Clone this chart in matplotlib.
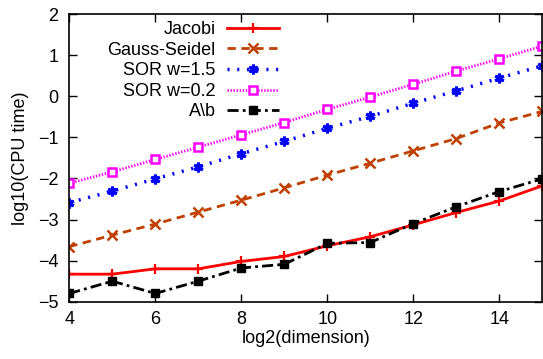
import matplotlib
matplotlib.use("Agg")
import matplotlib.pyplot as plt

plt.rcParams['font.family'] = ['Liberation Sans', 'DejaVu Sans']

dims = [4, 5, 6, 7, 8, 9, 10, 11, 12, 13, 14, 15]
jacobi = [-4.33, -4.33, -4.20, -4.20, -4.02, -3.90, -3.64, -3.42, -3.13, -2.83, -2.55, -2.18]
gauss_seidel = [-3.66, -3.38, -3.11, -2.82, -2.53, -2.23, -1.92, -1.63, -1.33, -1.03, -0.65, -0.37]
sor_15 = [-2.59, -2.31, -2.01, -1.72, -1.40, -1.10, -0.78, -0.49, -0.17, 0.13, 0.44, 0.74]
sor_02 = [-2.12, -1.84, -1.54, -1.24, -0.94, -0.64, -0.32, -0.02, 0.29, 0.61, 0.91, 1.22]
backslash = [-4.80, -4.50, -4.80, -4.50, -4.18, -4.09, -3.58, -3.56, -3.10, -2.69, -2.32, -2.01]
labels = ["Jacobi", "Gauss-Seidel", "SOR w=1.5", "SOR w=0.2", "A\\b"]
xticks = [4, 6, 8, 10, 12, 14]
yticks = [-5, -4, -3, -2, -1, 0, 1, 2]

fig = plt.figure(figsize=(5.43, 3.59), dpi=100)
ax = fig.add_axes([69.3/543, 1-301.7/359, (542.3-69.3)/543, (301.7-14)/359])

fs = 13
ax.plot(dims, jacobi, color='#ff0000', lw=2.0, ls='-', marker='+', ms=7, mew=1.6, label=labels[0])
ax.plot(dims, gauss_seidel, color='#c04000', lw=2.0, ls=(0, (3, 2)), marker='x', ms=6.5, mew=1.8, label=labels[1])
ax.plot(dims, sor_15, color='#0000ff', lw=2.5, ls=(0, (0.6, 2.2)), dash_capstyle='butt', marker=(6, 2, 0), ms=7, mew=2.2, label=labels[2])
ax.plot(dims, sor_02, color='#ff00ff', lw=2.0, ls=(0, (0.5, 0.6)), marker='s', ms=6, mew=1.8, mfc='white', label=labels[3])
ax.plot(dims, backslash, color='black', lw=2.0, ls=(0, (4, 1.5, 1, 1.5)), marker='s', ms=6, label=labels[4])

ax.set_xlim(4, 15)
ax.set_ylim(-5, 2)
ax.set_xticks(xticks)
ax.set_yticks(yticks)
ax.tick_params(direction='in', length=6, width=1.0, top=True, right=True, labelsize=fs)
ax.tick_params(axis='y', pad=8)
ax.tick_params(axis='x', pad=7)
for s in ax.spines.values():
    s.set_linewidth(1.2)
ax.set_xlabel("log2(dimension)", fontsize=fs, labelpad=1)
ax.set_ylabel("log10(CPU time)", fontsize=fs, labelpad=6)

leg = ax.legend(loc='upper right', bbox_to_anchor=(279/543, 1-21/359), bbox_transform=fig.transFigure,
                frameon=False, markerfirst=False, fontsize=fs, handlelength=2.9, handletextpad=0.6,
                labelspacing=0.2, borderpad=0, borderaxespad=0, numpoints=1)

fig.savefig("out.png", dpi=100)
